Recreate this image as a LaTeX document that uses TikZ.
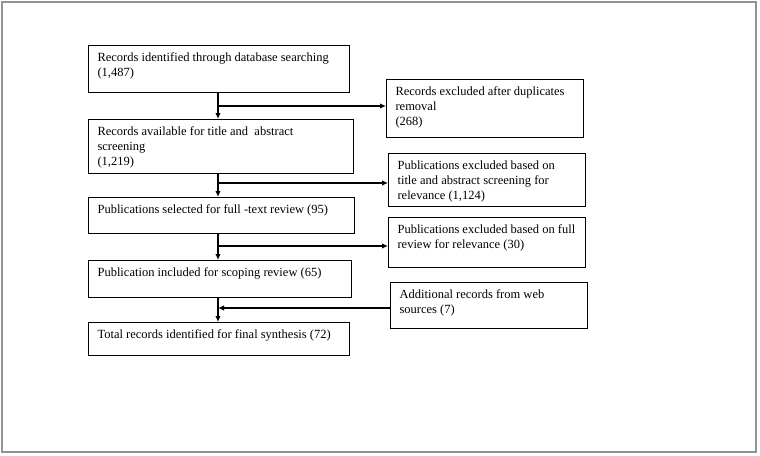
\documentclass[tikz,border=0pt]{standalone}
\usepackage{fontspec}
\setmainfont{Liberation Serif}
\usetikzlibrary{arrows.meta}
\newcommand{\bxt}[3]{\parbox[c][#2][t]{#1}{\vspace*{7.5pt}#3}}
\begin{document}
\begin{tikzpicture}[x=1pt,y=-1pt,
  every node/.style={font=\fontsize{12.5}{15}\selectfont},
  flowbox/.style={draw, line width=1.1pt, anchor=north west, inner xsep=9pt, inner ysep=0pt, align=left},
  arr/.style={line width=1.4pt, -{Latex[length=6pt,width=5.5pt]}},
  ln/.style={line width=1.4pt}]
\useasboundingbox (0,0) rectangle (760,455);
\draw[line width=2pt, gray!85] (2,2) rectangle (756,452);
% main column
\node[flowbox] (b1) at (88,45) {\bxt{243pt}{47pt}{Records identified through database searching\\(1,487)}};
\node[flowbox] (b2) at (88,119) {\bxt{247pt}{54pt}{Records available for title and\ \ abstract\\screening\\(1,219)}};
\node[flowbox] (b3) at (88,197) {\bxt{248pt}{36pt}{Publications selected for full -text review (95)}};
\node[flowbox] (b4) at (88,260) {\bxt{245pt}{37pt}{Publication included for scoping review (65)}};
\node[flowbox] (b5) at (88,322) {\bxt{243pt}{33pt}{Total records identified for final synthesis (72)}};
% side column
\node[flowbox] (r1) at (386,79) {\bxt{179pt}{58pt}{Records excluded after duplicates\\removal\\(268)}};
\node[flowbox] (r2) at (388,153) {\bxt{179pt}{53pt}{Publications excluded based on\\title and abstract screening for\\relevance (1,124)}};
\node[flowbox] (r3) at (388,217) {\bxt{179pt}{50pt}{Publications excluded based on full\\review for relevance (30)}};
\node[flowbox] (r4) at (390,282) {\bxt{179pt}{46pt}{Additional records from web\\sources (7)}};
% connectors
\coordinate (ax) at (218,0);
\coordinate (j1) at (218,106);
\coordinate (j2) at (218,183);
\coordinate (j3) at (218,246);
\coordinate (j4) at (218,308);
\draw[arr] (b1.south -| ax) -- (b2.north -| ax);
\draw[arr] (b2.south -| ax) -- (b3.north -| ax);
\draw[arr] (b3.south -| ax) -- (b4.north -| ax);
\draw[arr] (b4.south -| ax) -- (b5.north -| ax);
\draw[arr] (j1) -- (j1 -| r1.west);
\draw[arr] (j2) -- (j2 -| r2.west);
\draw[arr] (j3) -- (j3 -| r3.west);
\draw[arr] (j4 -| r4.west) -- (j4);
\end{tikzpicture}
\end{document}
